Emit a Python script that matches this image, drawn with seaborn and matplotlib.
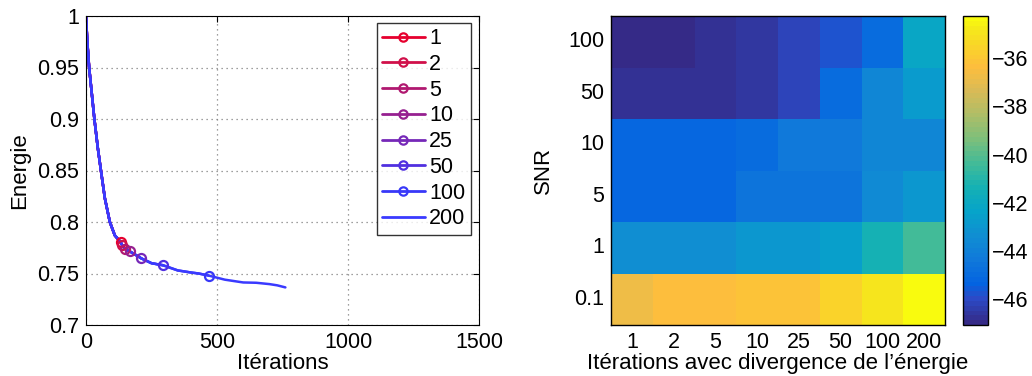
import numpy as np
import pandas as pd
import matplotlib
matplotlib.use("Agg")
import matplotlib.pyplot as plt
import seaborn as sns
from matplotlib.colors import LinearSegmentedColormap
from matplotlib.lines import Line2D

sns.set_style("white")
plt.rcParams["font.family"] = ["Liberation Sans", "DejaVu Sans"]
plt.rcParams["font.size"] = 15
plt.rcParams["text.color"] = "black"
plt.rcParams["axes.labelcolor"] = "black"
plt.rcParams["xtick.color"] = "black"
plt.rcParams["ytick.color"] = "black"

# --- donnees : courbe d'energie ---
iterations = [0, 5, 12, 20, 32, 45, 57, 72, 91, 110, 132, 137, 148, 167, 190, 211,
              250, 294, 350, 400, 430, 468, 530, 600, 650, 700, 730, 761]
energie = [1.0, 0.975, 0.95, 0.93, 0.90, 0.872, 0.85, 0.823, 0.80, 0.787, 0.7805, 0.778,
           0.774, 0.7715, 0.768, 0.7647, 0.760, 0.758, 0.753, 0.751, 0.750, 0.748,
           0.744, 0.7413, 0.741, 0.7397, 0.7385, 0.7365]
runs = ["1", "2", "5", "10", "25", "50", "100", "200"]
run_stop = [132, 137, 148, 167, 211, 294, 468, 761]
run_colors = ["#e6002e", "#d0104a", "#b01870", "#962090", "#7628b8", "#5030e0", "#3838f8", "#3a3aff"]

# --- donnees : carte SNR ---
snr_labels = ["100", "50", "10", "5", "1", "0.1"]
div_labels = ["1", "2", "5", "10", "25", "50", "100", "200"]
snr_100 = [-47.08, -47.0, -46.8, -46.6, -46.2, -45.8, -44.9, -42.1]
snr_50 = [-46.8, -46.8, -46.7, -46.5, -46.1, -45.0, -43.8, -42.8]
snr_10 = [-45.2, -45.2, -45.2, -44.9, -44.4, -44.4, -43.8, -43.8]
snr_5 = [-45.2, -45.2, -45.2, -44.6, -44.5, -44.5, -43.5, -43.0]
snr_1 = [-43.4, -43.4, -43.3, -42.9, -42.9, -42.5, -41.4, -40.3]
snr_01 = [-36.8, -36.3, -36.3, -36.2, -36.1, -35.5, -35.0, -34.24]

# parula (approx.), points du tableau 64 couleurs
parula = LinearSegmentedColormap.from_list("parula", [
    (0 / 63, (0.2081, 0.1663, 0.5292)), (5 / 63, (0.1707, 0.2919, 0.7792)),
    (8 / 63, (0.0117, 0.3875, 0.8820)), (13 / 63, (0.0629, 0.4737, 0.8554)),
    (18 / 63, (0.0641, 0.5570, 0.8240)), (23 / 63, (0.0231, 0.6418, 0.7913)),
    (28 / 63, (0.0843, 0.6928, 0.7062)), (33 / 63, (0.2586, 0.7317, 0.5954)),
    (38 / 63, (0.4871, 0.7491, 0.4840)), (43 / 63, (0.6834, 0.7435, 0.4044)),
    (48 / 63, (0.8507, 0.7299, 0.3360)), (53 / 63, (0.9938, 0.7455, 0.2403)),
    (57 / 63, (0.9789, 0.8271, 0.1633)), (61 / 63, (0.9598, 0.9218, 0.0948)),
    (63 / 63, (0.9763, 0.9831, 0.0538))], N=64)

rows = []
for r, stop in zip(runs, run_stop):
    for it, e in zip(iterations, energie):
        if it <= stop:
            rows.append({"run": r, "it": it, "E": e})
df = pd.DataFrame(rows)
ends = df.groupby("run", sort=False).tail(1)

fig = plt.figure(figsize=(10.32, 3.76), dpi=100)
W, H = 1032, 376
ax1 = fig.add_axes([86 / W, 1 - 325 / H, (479 - 86) / W, (325 - 16) / H])
ax2 = fig.add_axes([611 / W, 1 - 325 / H, (945 - 611) / W, (325 - 16) / H])
cax = fig.add_axes([963 / W, 1 - 325 / H, 25 / W, (325 - 16) / H])

# graphique gauche
sns.lineplot(data=df, x="it", y="E", hue="run", palette=run_colors, estimator=None,
             sort=False, lw=1.8, legend=False, ax=ax1)
end_pts = ends[ends["run"] != "200"]
for (_, p), c in zip(end_pts.iterrows(), run_colors):
    ax1.plot(p["it"], p["E"], "o", ms=6.5, mfc="none", mec=c, mew=1.6)

ax1.set_xlim(0, 1500)
ax1.set_ylim(0.7, 1.0)
ax1.set_xticks([0, 500, 1000, 1500])
ax1.set_yticks([0.7, 0.75, 0.8, 0.85, 0.9, 0.95, 1.0])
ax1.set_yticklabels(["0.7", "0.75", "0.8", "0.85", "0.9", "0.95", "1"])
ax1.grid(True, ls=(0, (1, 3)), color="#808080", lw=0.9)
ax1.tick_params(direction="in", top=True, right=True, length=4, pad=5, labelsize=15.5)
ax1.set_xlabel("Itérations", fontsize=16, labelpad=0)
ax1.set_ylabel("Energie", fontsize=16, labelpad=5)
for s in ax1.spines.values():
    s.set_color("black")
    s.set_linewidth(0.8)

handles = []
for r, c in zip(runs, run_colors):
    if r == "200":
        handles.append(Line2D([], [], color=c, lw=2))
    else:
        handles.append(Line2D([], [], color=c, lw=2, marker="o", ms=6, mfc="none", mew=1.6))
leg = ax1.legend(handles, runs, loc="upper right", bbox_to_anchor=(0.985, 0.985),
                 fontsize=15.5, frameon=True, fancybox=False, edgecolor="black",
                 labelspacing=0.22, handlelength=2.0, handletextpad=0.2,
                 borderpad=0.25, borderaxespad=0.1)
leg.get_frame().set_linewidth(1.0)

# carte de chaleur
snr = pd.DataFrame([snr_100, snr_50, snr_10, snr_5, snr_1, snr_01],
                   index=snr_labels, columns=div_labels)
sns.heatmap(snr, cmap=parula, ax=ax2, cbar_ax=cax,
            cbar_kws={"ticks": [-46, -44, -42, -40, -38, -36]})
ax2.set_yticklabels(snr_labels, rotation=0)
ax2.set_xticklabels(div_labels, rotation=0)
ax2.tick_params(direction="in", top=True, right=True, length=4, width=0.8, pad=5, labelsize=15.5)
ax2.set_xlabel("Itérations avec divergence de l’énergie", fontsize=16, labelpad=0)
ax2.set_ylabel("SNR", fontsize=16, labelpad=10)
for s in ax2.spines.values():
    s.set_visible(True)
    s.set_color("black")
    s.set_linewidth(1.0)

cbar = ax2.collections[0].colorbar
cax.tick_params(direction="in", left=True, right=True, length=4, labelsize=15.5, pad=3)
cbar.outline.set_edgecolor("black")
cbar.outline.set_linewidth(1.0)

fig.savefig("out.png", dpi=100)
